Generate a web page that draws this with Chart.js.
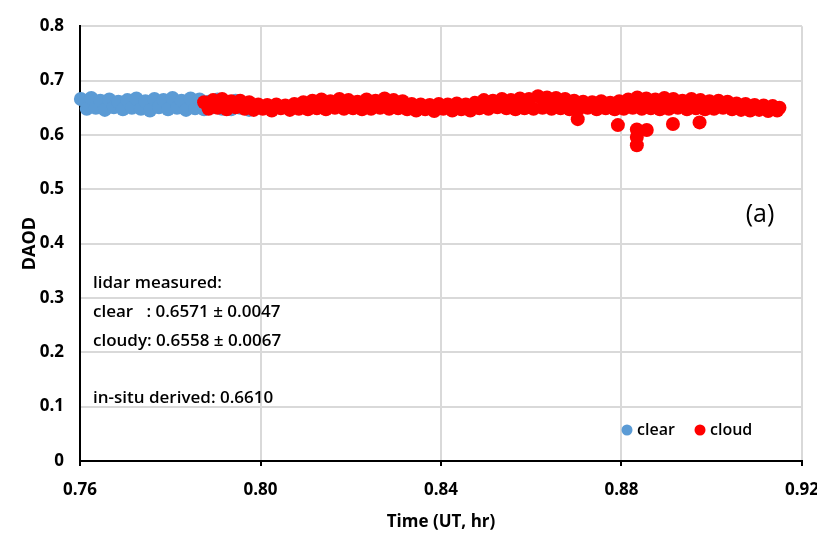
<!DOCTYPE html>
<html>
<head>
<meta charset="utf-8">
<script src="https://cdn.jsdelivr.net/npm/chart.js@4.4.1/dist/chart.umd.min.js"></script>
<style>
  html, body { margin: 0; padding: 0; background: #fff; }
  canvas { display: block; }
</style>
</head>
<body>
<canvas id="daodChart" width="817" height="548"></canvas>
<script>
// Datos
const xTicks = [0.76, 0.80, 0.84, 0.88, 0.92];
const yTicks = [0, 0.1, 0.2, 0.3, 0.4, 0.5, 0.6, 0.7, 0.8];

const clearTime = [
  0.7602, 0.7615, 0.7625, 0.7635, 0.7645, 0.7655, 0.7665, 0.7675, 0.7685, 0.7695,
  0.7705, 0.7715, 0.7725, 0.7735, 0.7745, 0.7755, 0.7765, 0.7775, 0.7785, 0.7795,
  0.7805, 0.7815, 0.7825, 0.7835, 0.7845, 0.7855, 0.7865, 0.7875, 0.7885, 0.7895,
  0.7905, 0.7915, 0.7925, 0.7935, 0.7945, 0.7955, 0.7965, 0.7975
];
const clearDaod = [
  0.666, 0.648, 0.668, 0.650, 0.663, 0.646, 0.665, 0.651, 0.661, 0.647,
  0.664, 0.650, 0.667, 0.648, 0.662, 0.645, 0.666, 0.651, 0.664, 0.647,
  0.668, 0.650, 0.663, 0.646, 0.667, 0.649, 0.665, 0.647, 0.661, 0.651,
  0.665, 0.648, 0.660, 0.647, 0.663, 0.650, 0.657, 0.646
];

const cloudTime = [
  0.7875, 0.7885, 0.7895, 0.7905, 0.7915, 0.7925, 0.7935, 0.7945, 0.7955, 0.7965,
  0.7975, 0.7985, 0.7995, 0.8005, 0.8015, 0.8025, 0.8035, 0.8045, 0.8055, 0.8065,
  0.8075, 0.8085, 0.8095, 0.8105, 0.8115, 0.8125, 0.8135, 0.8145, 0.8155, 0.8165,
  0.8175, 0.8185, 0.8195, 0.8205, 0.8215, 0.8225, 0.8235, 0.8245, 0.8255, 0.8265,
  0.8275, 0.8285, 0.8295, 0.8305, 0.8315, 0.8325, 0.8335, 0.8345, 0.8355, 0.8365,
  0.8375, 0.8385, 0.8395, 0.8405, 0.8415, 0.8425, 0.8435, 0.8445, 0.8455, 0.8465,
  0.8475, 0.8485, 0.8495, 0.8505, 0.8515, 0.8525, 0.8535, 0.8545, 0.8555, 0.8565,
  0.8575, 0.8585, 0.8595, 0.8605, 0.8615, 0.8625, 0.8635, 0.8645, 0.8655, 0.8665,
  0.8675, 0.8685, 0.8695, 0.8705, 0.8715, 0.8725, 0.8735, 0.8745, 0.8755, 0.8765,
  0.8775, 0.8785, 0.8795, 0.8805, 0.8815, 0.8825, 0.8835, 0.8845, 0.8855, 0.8865,
  0.8875, 0.8885, 0.8895, 0.8905, 0.8915, 0.8925, 0.8935, 0.8945, 0.8955, 0.8965,
  0.8975, 0.8985, 0.8995, 0.9005, 0.9015, 0.9025, 0.9035, 0.9045, 0.9055, 0.9065,
  0.9075, 0.9085, 0.9095, 0.9105, 0.9115, 0.9125, 0.9135, 0.9145, 0.9150,
  // puntos bajos (nubes)
  0.8703, 0.8792, 0.8834, 0.8834, 0.8834, 0.8856, 0.8914, 0.8973
];
const cloudDaod = [
  0.660, 0.648, 0.664, 0.650, 0.666, 0.647, 0.662, 0.651, 0.663, 0.648,
  0.660, 0.646, 0.656, 0.648, 0.655, 0.645, 0.656, 0.649, 0.654, 0.646,
  0.657, 0.648, 0.660, 0.647, 0.663, 0.649, 0.665, 0.647, 0.662, 0.650,
  0.666, 0.648, 0.664, 0.649, 0.661, 0.647, 0.665, 0.648, 0.663, 0.650,
  0.667, 0.648, 0.664, 0.649, 0.662, 0.647, 0.657, 0.645, 0.656, 0.647,
  0.655, 0.644, 0.657, 0.648, 0.656, 0.645, 0.658, 0.647, 0.656, 0.645,
  0.659, 0.649, 0.664, 0.648, 0.663, 0.651, 0.666, 0.649, 0.664, 0.647,
  0.667, 0.649, 0.666, 0.648, 0.671, 0.650, 0.669, 0.648, 0.668, 0.649,
  0.666, 0.647, 0.663, 0.648, 0.661, 0.650, 0.660, 0.647, 0.662, 0.649,
  0.659, 0.647, 0.662, 0.648, 0.665, 0.650, 0.669, 0.648, 0.667, 0.649,
  0.665, 0.647, 0.668, 0.648, 0.666, 0.650, 0.663, 0.647, 0.666, 0.649,
  0.664, 0.647, 0.662, 0.648, 0.663, 0.650, 0.661, 0.647, 0.658, 0.646,
  0.657, 0.645, 0.655, 0.646, 0.654, 0.644, 0.653, 0.645, 0.650,
  0.629, 0.618, 0.610, 0.596, 0.581, 0.609, 0.620, 0.623
];

const clearColor = '#5b9bd5';
const cloudColor = '#ff0000';

const notes = [
  { text: 'lidar measured:', y: 283 },
  { text: 'clear   : 0.6571 \u00b1 0.0047', y: 312 },
  { text: 'cloudy: 0.6558 \u00b1 0.0067', y: 341 },
  { text: 'in-situ derived: 0.6610', y: 398 }
];

function toPoints(xs, ys) {
  return xs.map((x, i) => ({ x: x, y: ys[i] }));
}

// Plugin para textos y leyenda dentro del área
const overlayPlugin = {
  id: 'overlay',
  afterDraw(chart) {
    const ctx = chart.ctx;
    ctx.save();
    ctx.fillStyle = '#000';
    ctx.textBaseline = 'middle';
    ctx.textAlign = 'left';
    ctx.font = '600 17px "Open Sans"';
    notes.forEach(n => ctx.fillText(n.text, 93, n.y));

    ctx.font = '25px "Open Sans"';
    ctx.textAlign = 'center';
    ctx.fillText('(a)', 760, 215);

    // leyenda
    ctx.font = '600 16px "Open Sans"';
    ctx.textAlign = 'left';
    const items = [
      { label: 'clear', color: clearColor, x: 627 },
      { label: 'cloud', color: cloudColor, x: 700 }
    ];
    items.forEach(it => {
      ctx.fillStyle = it.color;
      ctx.beginPath();
      ctx.arc(it.x, 430, 5.5, 0, Math.PI * 2);
      ctx.fill();
      ctx.fillStyle = '#000';
      ctx.fillText(it.label, it.x + 10, 430);
    });
    ctx.restore();
  }
};

const ctx = document.getElementById('daodChart').getContext('2d');
const daodChart = new Chart(ctx, {
  type: 'scatter',
  data: {
    datasets: [
      {
        label: 'clear',
        data: toPoints(clearTime, clearDaod),
        backgroundColor: clearColor,
        borderColor: clearColor,
        pointRadius: 7,
        pointBorderWidth: 0,
        clip: false,
        order: 1
      },
      {
        label: 'cloud',
        data: toPoints(cloudTime, cloudDaod),
        backgroundColor: cloudColor,
        borderColor: cloudColor,
        pointRadius: 7,
        pointBorderWidth: 0,
        clip: false,
        order: 0
      }
    ]
  },
  options: {
    responsive: false,
    animation: false,
    layout: { padding: { top: 22, right: 0, left: 0, bottom: 0 } },
    plugins: {
      legend: { display: false },
      tooltip: { enabled: false }
    },
    scales: {
      x: {
        type: 'linear',
        min: 0.76,
        max: 0.92,
        afterBuildTicks: scale => { scale.ticks = xTicks.map(v => ({ value: v })); },
        afterFit: scale => {
          scale.height = 87;
          scale.paddingRight = 15; // borde derecho del área en 0.92
        },
        grid: { color: '#d9d9d9', lineWidth: 2, tickColor: '#000', tickLength: 5, tickWidth: 2 },
        border: { color: '#000', width: 2 },
        ticks: {
          color: '#000',
          padding: 14,
          maxRotation: 0,
          font: { family: 'Open Sans', size: 17, weight: 'bold' },
          callback: v => v.toFixed(2)
        },
        title: {
          display: true,
          text: 'Time (UT, hr)',
          color: '#000',
          padding: { top: 0, bottom: 16 },
          font: { family: 'Open Sans', size: 17, weight: 'bold' }
        }
      },
      y: {
        min: 0,
        max: 0.8,
        afterBuildTicks: scale => { scale.ticks = yTicks.map(v => ({ value: v })); },
        afterFit: scale => { scale.width = 80; },
        grid: { color: '#d9d9d9', lineWidth: 2, drawTicks: false },
        border: { color: '#000', width: 2 },
        ticks: {
          color: '#000',
          padding: 16,
          font: { family: 'Open Sans', size: 17, weight: 'bold' },
          callback: v => (v === 0 ? '0' : v.toFixed(1))
        },
        title: {
          display: true,
          text: 'DAOD',
          color: '#000',
          padding: { top: 19, bottom: 0 },
          font: { family: 'Open Sans', size: 18, weight: 'bold' }
        }
      }
    }
  },
  plugins: [overlayPlugin]
});
</script>
</body>
</html>
